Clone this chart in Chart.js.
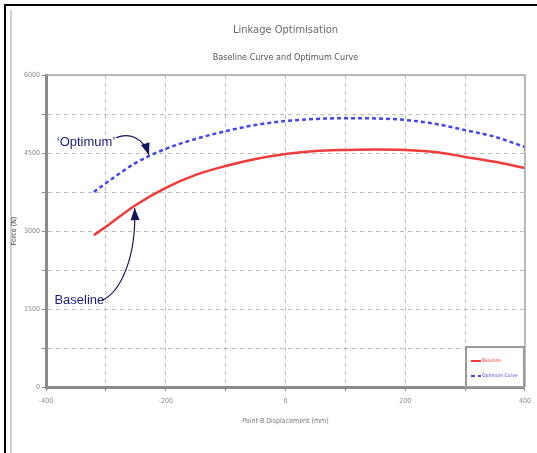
<!DOCTYPE html>
<html>
<head>
<meta charset="utf-8">
<script src="https://cdn.jsdelivr.net/npm/chart.js@4/dist/chart.umd.min.js"></script>
<style>
  html, body { margin: 0; padding: 0; background: #fff; }
  #wrap { position: absolute; left: 0; top: 0; width: 537px; height: 453px; }
  #frame { position: absolute; left: 4px; top: 4px; width: 533px; height: 449px; border-top: 2px solid #000; border-left: 2px solid #000; }
  #inner { position: absolute; left: 10px; top: 10px; height: 443px; border-left: 2px solid #cfcfcf; }
</style>
</head>
<body>
<div id="frame"></div>
<div id="inner"></div>
<div id="wrap"><canvas id="chart"></canvas></div>
<script>
// values
const displacement = [-320, -300, -250, -200, -150, -100, -50, 0, 50, 100, 150, 200, 250, 300, 350, 400];
const baselineForce = [2920, 3080, 3500, 3830, 4080, 4250, 4385, 4480, 4540, 4560, 4567, 4558, 4520, 4425, 4330, 4210];
const optimumForce = [3750, 3920, 4310, 4580, 4770, 4920, 5040, 5115, 5155, 5170, 5165, 5135, 5060, 4940, 4810, 4615];
const seriesNames = ['Baseline', 'Optimum Curve'];
const xMajor = [-400, -200, 0, 200, 400];
const yMajor = [0, 1500, 3000, 4500, 6000];

// call-outs, anchored in data units
const callouts = [
  { text: '\u2018Optimum\u2019', x: -382, y: 4700, tipX: -228, tipY: 4460, bend: -14 },
  { text: 'Baseline', x: -386, y: 1670, tipX: -252, tipY: 3440, bend: 0 }
];

const narrow = "'Liberation Sans Narrow', 'DejaVu Sans Condensed', 'Liberation Sans', sans-serif";

const frameAndLegend = {
  id: 'frameAndLegend',
  afterDraw(chart) {
    const ctx = chart.ctx;
    const a = chart.chartArea;
    ctx.save();
    // top and right frame of the plot
    ctx.strokeStyle = '#a8a8a8';
    ctx.lineWidth = 1.5;
    ctx.beginPath();
    ctx.moveTo(a.left, a.top);
    ctx.lineTo(a.right, a.top);
    ctx.lineTo(a.right, a.bottom);
    ctx.stroke();

    // legend box in the lower right corner
    const w = 60, h = 41;
    const lx = a.right - w, ly = a.bottom - h;
    ctx.fillStyle = '#fff';
    ctx.fillRect(lx, ly, w, h);
    ctx.strokeStyle = '#9a9a9a';
    ctx.lineWidth = 2;
    ctx.strokeRect(lx + 1, ly + 1, w - 2, h - 1);
    chart.data.datasets.forEach((ds, i) => {
      const yy = ly + 15 + i * 15;
      ctx.strokeStyle = ds.borderColor;
      ctx.lineWidth = 2;
      ctx.setLineDash(ds.borderDash || []);
      ctx.beginPath();
      ctx.moveTo(lx + 6, yy);
      ctx.lineTo(lx + 16, yy);
      ctx.stroke();
      ctx.setLineDash([]);
      ctx.fillStyle = ds.borderColor;
      ctx.font = '5px ' + narrow;
      ctx.textBaseline = 'middle';
      ctx.fillText(ds.label, lx + 17, yy, w - 20);
    });

    // call-outs with curved arrows
    const xs = chart.scales.x, ys = chart.scales.y;
    ctx.font = '13px Arial, "Liberation Sans", sans-serif';
    ctx.textBaseline = 'middle';
    callouts.forEach(c => {
      const tx = xs.getPixelForValue(c.x);
      const ty = ys.getPixelForValue(c.y);
      ctx.fillStyle = '#1c1c7a';
      ctx.fillText(c.text, tx, ty);
      const sx = tx + ctx.measureText(c.text).width + (c.bend ? 1 : -2);
      const sy = ty + (c.bend ? -5 : 0);
      const ex = xs.getPixelForValue(c.tipX);
      const ey = ys.getPixelForValue(c.tipY);
      let c1x, c1y, c2x, c2y;
      if (c.bend) {
        c1x = sx + 13; c1y = sy + c.bend * 0.35;
        c2x = ex - 6; c2y = ey - 18;
      } else {
        c1x = sx + 18; c1y = sy - 8;
        c2x = ex + 2; c2y = ey + 50;
      }
      ctx.strokeStyle = '#14145a';
      ctx.lineWidth = 1.2;
      ctx.beginPath();
      ctx.moveTo(sx, sy);
      ctx.bezierCurveTo(c1x, c1y, c2x, c2y, ex, ey);
      ctx.stroke();
      const ang = Math.atan2(ey - c2y, ex - c2x);
      const len = 12, half = 4.5;
      ctx.fillStyle = '#14145a';
      ctx.beginPath();
      ctx.moveTo(ex, ey);
      ctx.lineTo(ex - len * Math.cos(ang) + half * Math.sin(ang), ey - len * Math.sin(ang) - half * Math.cos(ang));
      ctx.lineTo(ex - len * Math.cos(ang) - half * Math.sin(ang), ey - len * Math.sin(ang) + half * Math.cos(ang));
      ctx.closePath();
      ctx.fill();
    });
    ctx.restore();
  }
};

const chart = new Chart(document.getElementById('chart').getContext('2d'), {
  type: 'line',
  data: {
    datasets: [
      {
        label: seriesNames[0],
        data: displacement.map((x, i) => ({ x: x, y: baselineForce[i] })),
        borderColor: '#ee3b3b',
        borderWidth: 2.5,
        pointRadius: 0,
        cubicInterpolationMode: 'monotone',
        fill: false
      },
      {
        label: seriesNames[1],
        data: displacement.map((x, i) => ({ x: x, y: optimumForce[i] })),
        borderColor: '#4646e6',
        borderWidth: 2.5,
        borderDash: [4, 3],
        pointRadius: 0,
        cubicInterpolationMode: 'monotone',
        fill: false
      }
    ]
  },
  options: {
    responsive: true,
    maintainAspectRatio: false,
    animation: false,
    layout: { padding: { left: 8, right: 7, top: 0, bottom: 26 } },
    plugins: {
      legend: { display: false },
      tooltip: { enabled: false },
      title: {
        display: true,
        fullSize: false,
        text: 'Linkage Optimisation',
        color: '#6a6a6a',
        font: { family: narrow, size: 11, weight: 'normal' },
        padding: { top: 24, bottom: 12 }
      },
      subtitle: {
        display: true,
        fullSize: false,
        text: 'Baseline Curve and Optimum Curve',
        color: '#555',
        font: { family: narrow, size: 9 },
        padding: { top: 3, bottom: 12 }
      }
    },
    scales: {
      x: {
        type: 'linear',
        min: -400,
        max: 400,
        afterFit: function (scale) { scale.height = 40; },
        ticks: {
          stepSize: 100,
          autoSkip: false,
          maxRotation: 0,
          color: '#8a8a8a',
          padding: 6,
          font: { family: narrow, size: 7 },
          callback: function (v) { return xMajor.includes(v) ? String(v) : ''; }
        },
        grid: { color: '#bdbdbd', lineWidth: 1, tickLength: 4, tickColor: '#8a8a8a' },
        border: { color: '#8a8a8a', width: 3, dash: [4, 4] },
        title: {
          display: true,
          text: 'Point B Displacement (mm)',
          color: '#777',
          font: { family: narrow, size: 7 },
          padding: { top: 2, bottom: 2 }
        }
      },
      y: {
        min: 0,
        max: 6000,
        afterFit: function (scale) { scale.width = 38; },
        ticks: {
          stepSize: 750,
          autoSkip: false,
          color: '#8a8a8a',
          padding: 2,
          font: { family: narrow, size: 7 },
          callback: function (v) { return yMajor.includes(v) ? String(v) : ''; }
        },
        grid: { color: '#bdbdbd', lineWidth: 1, tickLength: 4, tickColor: '#8a8a8a' },
        border: { color: '#8a8a8a', width: 3, dash: [4, 4] },
        title: {
          display: true,
          text: 'Force (N)',
          color: '#444',
          font: { family: narrow, size: 7 },
          padding: { top: 2, bottom: 0 }
        }
      }
    }
  },
  plugins: [frameAndLegend]
});
</script>
</body>
</html>
